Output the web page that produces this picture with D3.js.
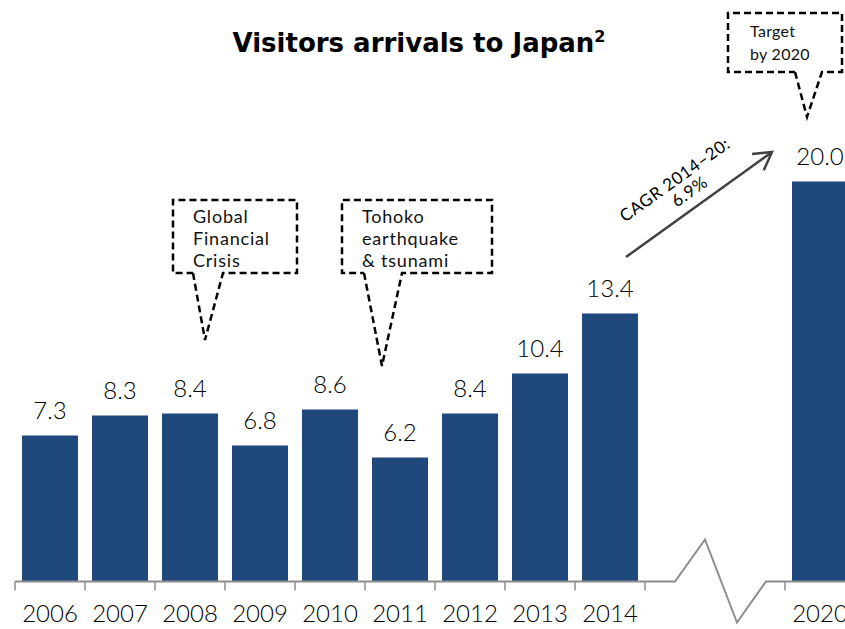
<!DOCTYPE html>
<html>
<head>
<meta charset="utf-8">
<script src="https://cdn.jsdelivr.net/npm/d3@7"></script>
<style>
  body { margin: 0; background: #fff; }
  text { font-family: Lato, "Noto Sans", sans-serif; font-weight: 300; }
</style>
</head>
<body>
<script>
// slots on the x axis ("gap" slots sit behind the axis break)
var slots = ["2006", "2007", "2008", "2009", "2010", "2011", "2012", "2013", "2014", "gap1", "gap2", "2020"];
var years = ["2006", "2007", "2008", "2009", "2010", "2011", "2012", "2013", "2014", "2020"];
var visitors = [7.3, 8.3, 8.4, 6.8, 8.6, 6.2, 8.4, 10.4, 13.4, 20.0];

var callouts = [
  { lines: ["Global", "Financial", "Crisis"] },
  { lines: ["Tohoko", "earthquake", "& tsunami"] },
  { lines: ["Target", "by 2020"] }
];
var cagrLines = ["CAGR 2014\u201320:", "6.9%"];

var width = 845, height = 629;
var barColor = "#1f497d";

var svg = d3.select("body").append("svg")
  .attr("width", width)
  .attr("height", height);

var x = d3.scaleBand()
  .domain(slots)
  .range([15, 855])
  .paddingInner(0.2)
  .paddingOuter(0.1);

var y = d3.scaleLinear()
  .domain([0, 20])
  .range([581.5, 181.5]);

var data = years.map(function(d, i) { return { year: d, value: visitors[i] }; });

// title
svg.append("text")
  .attr("x", 419)
  .attr("y", 52)
  .attr("text-anchor", "middle")
  .style("font-family", "'DejaVu Sans', sans-serif")
  .style("font-size", "26px")
  .style("font-weight", "bold")
  .text("Visitors arrivals to Japan")
  .append("tspan")
    .attr("dy", -10)
    .style("font-size", "16px")
    .text("2");

// bars
svg.selectAll(".bar")
  .data(data)
.enter().append("rect")
  .attr("class", "bar")
  .attr("x", function(d) { return x(d.year); })
  .attr("y", function(d) { return y(d.value); })
  .attr("width", x.bandwidth())
  .attr("height", function(d) { return y(0) - y(d.value); })
  .attr("fill", barColor);

// value labels
svg.selectAll(".val")
  .data(data)
.enter().append("text")
  .attr("class", "val")
  .attr("x", function(d) { return x(d.year) + x.bandwidth() / 2; })
  .attr("y", function(d) { return y(d.value) - 17; })
  .attr("text-anchor", "middle")
  .style("font-size", "24px")
  .text(function(d) { return d.value.toFixed(1); });

// year labels
svg.selectAll(".year")
  .data(years)
.enter().append("text")
  .attr("class", "year")
  .attr("x", function(d) { return x(d) + x.bandwidth() / 2; })
  .attr("y", 622)
  .attr("text-anchor", "middle")
  .style("font-size", "24px")
  .text(function(d) { return d; });

// axis with break
var step = x.step();
var left0 = x(slots[0]) - x.paddingOuter() * step;
var y0 = y(0);
var brk = x("gap1") - step * 0.1;   // boundary after 2014
var axisColor = "#8c8c8c";

var axisPts = [
  [left0, y0],
  [brk + 30, y0],
  [brk + 60, y0 - 42],
  [brk + 92, y0 + 41],
  [brk + 121, y0],
  [width, y0]
];
svg.append("path")
  .attr("d", d3.line()(axisPts))
  .attr("fill", "none")
  .attr("stroke", axisColor)
  .attr("stroke-width", 2);

var tickXs = slots.slice(0, 9).map(function(d) { return x(d) - step * 0.1; });
tickXs.push(brk);
tickXs.push(x("2020") - step * 0.1);
svg.selectAll(".tick")
  .data(tickXs)
.enter().append("line")
  .attr("x1", function(d) { return d; })
  .attr("x2", function(d) { return d; })
  .attr("y1", y0)
  .attr("y2", y0 + 9)
  .attr("stroke", axisColor)
  .attr("stroke-width", 1.5);

// dashed callouts
var boxes = [
  { l: 173, r: 297, t: 200, b: 273, p1: 193, p2: 223, tip: [205, 340], tx: 193, ty: 223 },
  { l: 342, r: 492, t: 200, b: 273, p1: 364, p2: 402, tip: [382, 366], tx: 362, ty: 223 },
  { l: 728, r: 842, t: 13, b: 72, p1: 795, p2: 822, tip: [807, 117], tx: 750, ty: 37 }
];

boxes.forEach(function(bx, i) {
  var pts = [
    [bx.p1, bx.b], bx.tip, [bx.p2, bx.b],
    [bx.r, bx.b], [bx.r, bx.t], [bx.l, bx.t], [bx.l, bx.b], [bx.p1, bx.b]
  ];
  svg.append("path")
    .attr("d", d3.line()(pts))
    .attr("fill", "none")
    .attr("stroke", "#000")
    .attr("stroke-width", 2.5)
    .attr("stroke-dasharray", "7,4");

  var lh = i === 2 ? 23 : 22;
  svg.append("g").selectAll("text")
    .data(callouts[i].lines)
  .enter().append("text")
    .attr("x", bx.tx)
    .attr("y", function(d, j) { return bx.ty + j * lh; })
    .style("font-size", i === 2 ? "16px" : "18px")
    .style("font-weight", 400)
    .style("letter-spacing", i === 2 ? "0.3px" : "0.8px")
    .style("fill", "#111")
    .text(function(d) { return d; });
});

// CAGR arrow
var a0 = [626, 257], a1 = [772, 152];
var ang = Math.atan2(a1[1] - a0[1], a1[0] - a0[0]);
var arrowColor = "#404040";
svg.append("line")
  .attr("x1", a0[0]).attr("y1", a0[1])
  .attr("x2", a1[0]).attr("y2", a1[1])
  .attr("stroke", arrowColor)
  .attr("stroke-width", 2.5);
var headLen = 20, headAng = Math.PI / 6;
var head = [
  [a1[0] - headLen * Math.cos(ang - headAng), a1[1] - headLen * Math.sin(ang - headAng)],
  a1,
  [a1[0] - headLen * Math.cos(ang + headAng), a1[1] - headLen * Math.sin(ang + headAng)]
];
svg.append("path")
  .attr("d", d3.line()(head))
  .attr("fill", "none")
  .attr("stroke", arrowColor)
  .attr("stroke-width", 2.5);

var cagr = svg.append("g")
  .attr("transform", "translate(680,187) rotate(" + (ang * 180 / Math.PI) + ")");
cagr.selectAll("text")
  .data(cagrLines)
.enter().append("text")
  .attr("x", function(d, i) { return i === 0 ? 0 : 5; })
  .attr("y", function(d, i) { return i === 0 ? -3 : 15; })
  .attr("text-anchor", "middle")
  .style("font-size", "17px")
  .style("font-weight", 400)
  .style("letter-spacing", "0.6px")
  .text(function(d) { return d; });
</script>
</body>
</html>
